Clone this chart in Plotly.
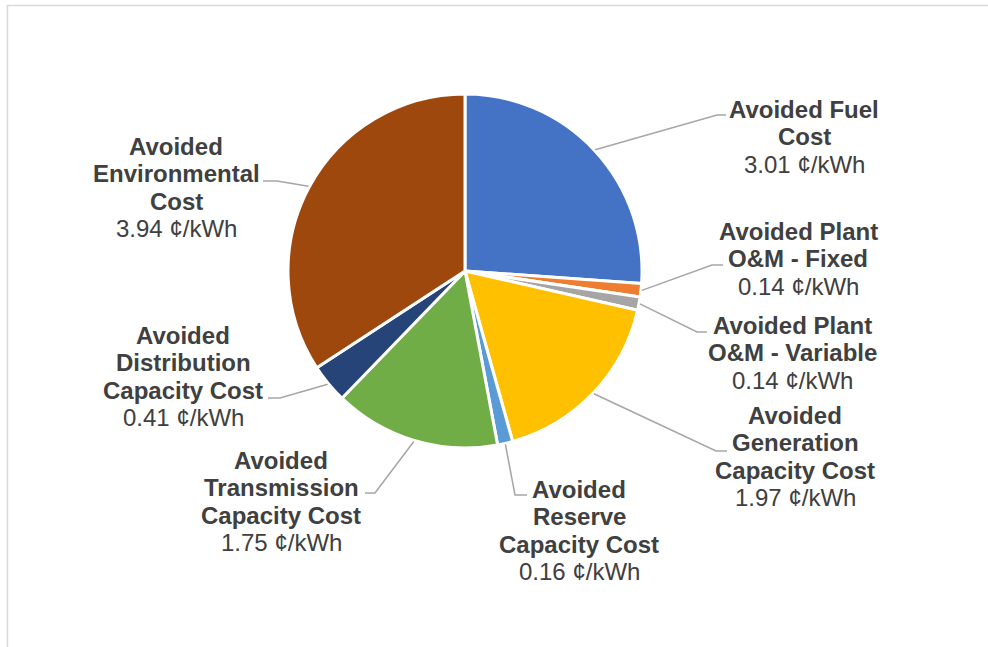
import math
import plotly.graph_objects as go

# ---- data ----
name_lines = [
    ["Avoided Fuel", "Cost"],
    ["Avoided Plant", "O&M - Fixed"],
    ["Avoided Plant", "O&M - Variable"],
    ["Avoided", "Generation", "Capacity Cost"],
    ["Avoided", "Reserve", "Capacity Cost"],
    ["Avoided", "Transmission", "Capacity Cost"],
    ["Avoided", "Distribution", "Capacity Cost"],
    ["Avoided", "Environmental", "Cost"],
]
values = [3.01, 0.14, 0.14, 1.97, 0.16, 1.75, 0.41, 3.94]
unit = "¢/kWh"

# ---- styles / positions (pixel space) ----
colors = ["#4472C4", "#ED7D31", "#A5A5A5", "#FFC000",
          "#5B9BD5", "#70AD47", "#264478", "#9E480E"]
W, H = 988, 647
CX, CY, R = 465, 271, 177
# label block center x, first line y
label_pos = [(804, 108), (798, 230), (792, 324), (795, 414),
             (579, 488), (281, 459), (183, 334), (176, 145)]
# leader line bend point and end point
leader_pts = [((717, 115), (726, 115)), ((712, 265), (723, 265)),
              ((697, 332), (707, 332)), ((716, 451), (727, 451)),
              ((515, 495), (527, 495)), ((375, 493), (365, 493)),
              ((280, 398), (268, 398)), ((277, 181), (263, 181))]
LINE_H = 27.6
FONT = "Arial, Liberation Sans, sans-serif"
TXT = "#404040"

labels = [" ".join(n) for n in name_lines]

fig = go.Figure()
fig.add_trace(go.Pie(
    labels=labels, values=values, sort=False, direction="clockwise",
    rotation=0, textinfo="none", hoverinfo="label+value",
    marker=dict(colors=colors, line=dict(color="white", width=3)),
    domain=dict(x=[(CX - R) / W, (CX + R) / W],
                y=[(H - CY - R) / H, (H - CY + R) / H]),
    showlegend=False,
))

annotations = []
shapes = []
total = sum(values)
cum = 0.0
for i, v in enumerate(values):
    mid = (cum + v / 2) / total * 2 * math.pi
    cum += v
    sx = CX + (R + 1) * math.sin(mid)
    sy = CY - (R + 1) * math.cos(mid)
    (bx, by), (ex, ey) = leader_pts[i]
    shapes.append(dict(type="path", xref="x", yref="y",
                       path=f"M {sx:.1f} {sy:.1f} L {bx} {by} L {ex} {ey}",
                       line=dict(color="#A6A6A6", width=1.5)))
    lx, ly = label_pos[i]
    lines = [f"<b>{t}</b>" for t in name_lines[i]] + [f"{v:.2f} {unit}"]
    for j, t in enumerate(lines):
        annotations.append(dict(x=lx, y=ly + j * LINE_H + 1, xref="x", yref="y",
                                text=t, showarrow=False, xanchor="center",
                                yanchor="middle",
                                font=dict(family=FONT, size=24, color=TXT)))

# chart area border
shapes.append(dict(type="rect", xref="x", yref="y", x0=7.5, y0=5.5, x1=1100, y1=800,
                   line=dict(color="#D9D9D9", width=1.5), layer="below"))

fig.update_layout(
    width=W, height=H, margin=dict(l=0, r=0, t=0, b=0),
    paper_bgcolor="white", plot_bgcolor="rgba(0,0,0,0)",
    xaxis=dict(range=[0, W], visible=False, fixedrange=True),
    yaxis=dict(range=[H, 0], visible=False, fixedrange=True),
    annotations=annotations, shapes=shapes,
)
fig.write_html("out.html")
